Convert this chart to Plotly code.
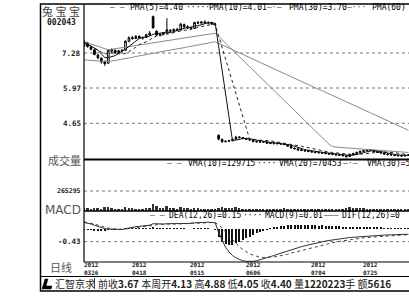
import plotly.graph_objects as go
import pandas as pd

W, H = 409, 302
def fx(px): return px / W
def fy(py): return 1 - py / H

# ---------------- data ----------------
opens = [7.55, 7.65, 7.50, 7.40, 7.20, 7.08, 6.95, 6.90, 7.35, 7.38,
         7.30, 7.36, 7.38, 7.72, 7.85, 7.82, 7.90, 7.84, 7.86, 7.96,
         8.64, 8.10, 7.95, 7.98, 8.02, 8.12, 8.10, 8.16, 8.14, 8.34,
         8.26, 8.22, 8.20, 8.42, 8.40, 8.44, 8.40, 8.42, 8.36,
         4.20, 4.05, 3.96, 3.98, 4.00, 4.06, 4.14, 4.12, 4.08, 4.05,
         4.02, 3.97, 3.95, 3.97, 3.95, 3.92, 3.89, 3.91, 3.89, 3.88,
         3.85, 3.80, 3.72, 3.70, 3.66, 3.64, 3.62, 3.60, 3.58, 3.56,
         3.55, 3.54, 3.52, 3.50, 3.49, 3.47, 3.46, 3.44, 3.41, 3.48,
         3.52, 3.56, 3.60, 3.63, 3.66, 3.64, 3.59, 3.56, 3.54, 3.50,
         3.48, 3.47, 3.45, 3.44, 3.43, 3.45]
highs = [7.75, 7.70, 7.55, 7.42, 7.25, 7.12, 7.00, 7.42, 7.45, 7.42,
         7.40, 7.42, 7.75, 7.90, 7.92, 7.95, 7.94, 7.90, 8.00, 8.10,
         8.68, 8.12, 8.02, 8.05, 8.58, 8.18, 8.20, 8.22, 8.40, 8.38,
         8.32, 8.28, 8.45, 8.48, 8.46, 8.50, 8.46, 8.45, 8.40,
         4.24, 4.08, 4.01, 4.03, 4.08, 4.18, 4.17, 4.14, 4.10, 4.07,
         4.04, 4.00, 3.99, 3.99, 3.97, 3.94, 3.93, 3.93, 3.92, 3.91,
         3.87, 3.82, 3.75, 3.72, 3.69, 3.67, 3.65, 3.63, 3.61, 3.59,
         3.58, 3.57, 3.55, 3.53, 3.52, 3.50, 3.49, 3.46, 3.51, 3.55,
         3.59, 3.63, 3.66, 3.69, 3.68, 3.66, 3.61, 3.58, 3.56, 3.52,
         3.50, 3.49, 3.47, 3.46, 3.48, 3.50]
lows = [7.50, 7.48, 7.38, 7.20, 7.05, 6.88, 6.80, 6.88, 7.28, 7.25,
        7.26, 7.30, 7.36, 7.68, 7.78, 7.80, 7.80, 7.78, 7.84, 7.92,
        8.20, 7.92, 7.90, 7.95, 8.00, 8.05, 8.08, 8.10, 8.12, 8.22,
        8.18, 8.15, 8.18, 8.36, 8.34, 8.38, 8.35, 8.33, 8.28,
        4.02, 3.93, 3.94, 3.96, 3.98, 4.04, 4.08, 4.06, 4.02, 4.00,
        3.94, 3.93, 3.92, 3.92, 3.88, 3.87, 3.86, 3.86, 3.85, 3.83,
        3.77, 3.70, 3.67, 3.62, 3.61, 3.59, 3.57, 3.55, 3.53, 3.52,
        3.51, 3.49, 3.47, 3.46, 3.44, 3.43, 3.41, 3.37, 3.39, 3.46,
        3.50, 3.54, 3.58, 3.61, 3.61, 3.57, 3.54, 3.51, 3.48, 3.45,
        3.44, 3.42, 3.41, 3.40, 3.41, 3.43]
closes = [7.68, 7.52, 7.42, 7.22, 7.10, 6.95, 6.88, 7.38, 7.40, 7.30,
          7.36, 7.38, 7.72, 7.85, 7.82, 7.90, 7.84, 7.86, 7.96, 8.02,
          8.22, 7.95, 7.98, 8.02, 8.15, 8.10, 8.16, 8.14, 8.36, 8.26,
          8.22, 8.20, 8.42, 8.40, 8.44, 8.40, 8.42, 8.36, 8.35,
          4.06, 3.96, 3.98, 4.00, 4.05, 4.13, 4.12, 4.09, 4.05, 4.03,
          3.97, 3.96, 3.96, 3.95, 3.91, 3.90, 3.90, 3.89, 3.88, 3.86,
          3.80, 3.73, 3.70, 3.65, 3.64, 3.62, 3.60, 3.58, 3.56, 3.55,
          3.54, 3.52, 3.50, 3.49, 3.47, 3.46, 3.44, 3.40, 3.48, 3.52,
          3.56, 3.60, 3.63, 3.65, 3.64, 3.59, 3.56, 3.54, 3.50, 3.48,
          3.47, 3.45, 3.44, 3.43, 3.45, 3.47]
ma30 = [7.70, 7.66, 7.62, 7.58, 7.53, 7.48, 7.44, 7.40, 7.42, 7.44,
        7.46, 7.48, 7.50, 7.52, 7.54, 7.56, 7.58, 7.60, 7.62, 7.64,
        7.66, 7.68, 7.70, 7.72, 7.74, 7.76, 7.78, 7.80, 7.82, 7.84,
        7.86, 7.88, 7.90, 7.92, 7.94, 7.96, 7.98, 8.00, 8.02, 7.90,
        7.77, 7.65, 7.52, 7.40, 7.27, 7.14, 7.02, 6.89, 6.77, 6.64,
        6.51, 6.39, 6.26, 6.14, 6.01, 5.88, 5.76, 5.63, 5.51, 5.38,
        5.25, 5.13, 5.00, 4.88, 4.75, 4.62, 4.50, 4.37, 4.25, 4.12,
        3.99, 3.87, 3.78, 3.76, 3.75, 3.74, 3.73, 3.72, 3.71, 3.70,
        3.70, 3.69, 3.68, 3.67, 3.66, 3.65, 3.64, 3.63, 3.62, 3.61,
        3.60, 3.59, 3.58, 3.57, 3.56]
ma60 = [7.02, 7.01, 7.00, 6.99, 6.98, 6.97, 6.96, 6.96, 6.98, 7.00,
        7.03, 7.05, 7.08, 7.10, 7.12, 7.15, 7.17, 7.20, 7.22, 7.24,
        7.27, 7.29, 7.32, 7.34, 7.36, 7.39, 7.41, 7.44, 7.46, 7.48,
        7.51, 7.53, 7.56, 7.58, 7.60, 7.63, 7.65, 7.68, 7.70, 7.64,
        7.58, 7.52, 7.46, 7.40, 7.34, 7.28, 7.22, 7.17, 7.11, 7.05,
        6.99, 6.93, 6.87, 6.81, 6.75, 6.69, 6.63, 6.57, 6.52, 6.46,
        6.40, 6.34, 6.28, 6.22, 6.16, 6.10, 6.04, 5.98, 5.92, 5.87,
        5.81, 5.75, 5.69, 5.63, 5.57, 5.51, 5.45, 5.39, 5.33, 5.27,
        5.21, 5.15, 5.10, 5.04, 4.98, 4.92, 4.86, 4.80, 4.74, 4.68,
        4.62, 4.56, 4.50, 4.45, 4.39]
volumes = [40000, 34000, 30000, 42000, 36000, 32000, 48000, 55000, 35000, 28000,
           27000, 26000, 52000, 46000, 36000, 33000, 30000, 28000, 38000, 42000,
           90000, 60000, 40000, 35000, 66000, 42000, 36000, 32000, 48000, 38000,
           34000, 30000, 45000, 35000, 32000, 28000, 30000, 27000, 26000,
           42000, 52000, 38000, 34000, 43000, 48000, 36000, 32000, 28000, 30000,
           27000, 26000, 28000, 25000, 24000, 27000, 26000, 30000, 32000, 35000,
           28000, 26000, 24000, 23000, 22000, 25000, 27000, 24000, 22000, 21000,
           23000, 24000, 22000, 21000, 22000, 23000, 26000, 40000, 50000, 46000,
           42000, 37000, 34000, 32000, 28000, 26000, 24000, 23000, 22000, 24000,
           25000, 23000, 22000, 24000, 26000, 27000]
dif = [0.22, 0.20, 0.17, 0.13, 0.09, 0.05, 0.01, 0.00, -0.01, -0.02,
       -0.02, -0.02, 0.01, 0.04, 0.06, 0.08, 0.09, 0.10, 0.11, 0.13,
       0.18, 0.17, 0.17, 0.17, 0.18, 0.18, 0.18, 0.18, 0.20, 0.20,
       0.19, 0.19, 0.21, 0.22, 0.23, 0.23, 0.23, 0.22, 0.21, -0.12,
       -0.40, -0.62, -0.78, -0.90, -0.98, -1.04, -1.08, -1.10, -1.11, -1.10,
       -1.08, -1.05, -1.02, -0.98, -0.94, -0.90, -0.86, -0.82, -0.78, -0.74,
       -0.70, -0.67, -0.63, -0.60, -0.57, -0.54, -0.51, -0.48, -0.46, -0.43,
       -0.41, -0.39, -0.37, -0.35, -0.33, -0.32, -0.31, -0.29, -0.28, -0.27,
       -0.26, -0.25, -0.24, -0.23, -0.22, -0.22, -0.21, -0.21, -0.20, -0.20,
       -0.19, -0.19, -0.19, -0.18, -0.18]
dea = [0.24, 0.22, 0.20, 0.17, 0.13, 0.09, 0.05, 0.03, 0.01, 0.00,
       -0.01, -0.01, 0.00, 0.02, 0.04, 0.06, 0.07, 0.08, 0.09, 0.11,
       0.14, 0.15, 0.16, 0.16, 0.17, 0.17, 0.17, 0.17, 0.18, 0.19,
       0.19, 0.19, 0.20, 0.20, 0.21, 0.22, 0.22, 0.22, 0.22, 0.14,
       0.04, -0.10, -0.23, -0.37, -0.49, -0.60, -0.70, -0.78, -0.84, -0.89,
       -0.93, -0.96, -0.97, -0.97, -0.96, -0.95, -0.93, -0.91, -0.88, -0.86,
       -0.82, -0.79, -0.76, -0.73, -0.70, -0.67, -0.63, -0.60, -0.57, -0.55,
       -0.52, -0.49, -0.47, -0.44, -0.42, -0.40, -0.38, -0.36, -0.35, -0.33,
       -0.32, -0.30, -0.29, -0.28, -0.27, -0.26, -0.25, -0.24, -0.23, -0.23,
       -0.22, -0.21, -0.21, -0.20, -0.20]

date_ticks = [2, 16, 33, 49, 68, 83]
date_years = ["2012"] * 6
date_days = ["0326", "0418", "0515", "0606", "0704", "0725"]

price_ticks = [7.28, 5.97, 4.65]
vol_ticks = [265295]
macd_ticks = [-0.43]

status_text = ("前收<b>3.67</b> 本周开<b>4.13</b> 高<b>4.88</b> 低<b>4.05</b> "
               "收<b>4.40</b> 量<b>1220223</b>手 额<b>5616</b>")

n = min(len(opens), len(highs), len(lows), len(closes), len(ma30), len(ma60),
        len(volumes), len(dif), len(dea))
idx = list(range(n))
cl = pd.Series(closes[:n])
ma5 = cl.rolling(5, min_periods=1).mean()
ma10 = cl.rolling(10, min_periods=1).mean()
hist = [dif[i] - dea[i] for i in range(n)]

# ---------------- geometry ----------------
PX_PER = 3.45
K0_PX = 84.1
XL, XR = 84, 409
xr = [(XL - K0_PX) / PX_PER, (XR - K0_PX) / PX_PER]

def price_at(py):
    return 7.28 - (py - 53) / 26.74

P_TOP, P_BOT = 3, 159
V_TOP, V_BOT = 159, 211
M_TOP, M_BOT = 211, 262
v_max = 265295 * (V_BOT - V_TOP) / (V_BOT - 191)
m_scale = 0.034
m_zero = 229
m_range = [-(M_BOT - m_zero) * m_scale, (m_zero - M_TOP) * m_scale]

fig = go.Figure()
fig.add_trace(go.Candlestick(
    x=idx, open=opens[:n], high=highs[:n], low=lows[:n], close=closes[:n],
    increasing=dict(line=dict(color="black", width=1), fillcolor="white"),
    decreasing=dict(line=dict(color="black", width=1), fillcolor="black"),
    whiskerwidth=0, xaxis="x", yaxis="y", showlegend=False))
fig.add_trace(go.Scatter(x=idx, y=ma60[:n], mode="lines", line=dict(color="#8a8a8a", width=1),
                         xaxis="x", yaxis="y", showlegend=False))
fig.add_trace(go.Scatter(x=idx, y=ma30[:n], mode="lines", line=dict(color="#8a8a8a", width=1),
                         xaxis="x", yaxis="y", showlegend=False))
fig.add_trace(go.Scatter(x=idx, y=ma10, mode="lines", line=dict(color="#222", width=1, dash="dot"),
                         xaxis="x", yaxis="y", showlegend=False))
fig.add_trace(go.Scatter(x=idx, y=ma5, mode="lines", line=dict(color="#111", width=1),
                         xaxis="x", yaxis="y", showlegend=False))

fig.add_trace(go.Bar(x=idx, y=volumes[:n], width=0.55, marker=dict(color="#333", line=dict(width=0)),
                     xaxis="x2", yaxis="y2", showlegend=False))

fig.add_trace(go.Bar(x=idx, y=hist, width=0.3, marker=dict(color="#111", line=dict(width=0)),
                     xaxis="x3", yaxis="y3", showlegend=False))
fig.add_trace(go.Scatter(x=idx, y=dea[:n], mode="lines", line=dict(color="#444", width=1, dash="dot"),
                         xaxis="x3", yaxis="y3", showlegend=False))
fig.add_trace(go.Scatter(x=idx, y=dif[:n], mode="lines", line=dict(color="#333", width=1),
                         xaxis="x3", yaxis="y3", showlegend=False))

ax_common = dict(visible=False, showgrid=False, zeroline=False, fixedrange=True)
fig.update_layout(
    width=W, height=H, margin=dict(l=0, r=0, t=0, b=0),
    paper_bgcolor="white", plot_bgcolor="white", showlegend=False,
    bargap=0,
    xaxis=dict(domain=[fx(XL), 1], range=xr, rangeslider=dict(visible=False), anchor="y", **ax_common),
    xaxis2=dict(domain=[fx(XL), 1], range=xr, anchor="y2", matches="x", **ax_common),
    xaxis3=dict(domain=[fx(XL), 1], range=xr, anchor="y3", matches="x", **ax_common),
    yaxis=dict(domain=[fy(P_BOT), fy(P_TOP)], range=[price_at(P_BOT), price_at(P_TOP)], anchor="x", **ax_common),
    yaxis2=dict(domain=[fy(V_BOT), fy(V_TOP)], range=[0, v_max], anchor="x2", **ax_common),
    yaxis3=dict(domain=[fy(M_BOT), fy(M_TOP)], range=m_range, anchor="x3", **ax_common),
)

shapes = []
def hline(py, x0, x1, w=1, color="black", dash=None):
    d = dict(type="line", xref="paper", yref="paper", x0=fx(x0), x1=fx(x1),
             y0=fy(py), y1=fy(py), line=dict(color=color, width=w))
    if dash:
        d["line"]["dash"] = dash
    shapes.append(d)
def vline(px, y0, y1, w=1, color="black"):
    shapes.append(dict(type="line", xref="paper", yref="paper", x0=fx(px), x1=fx(px),
                       y0=fy(y0), y1=fy(y1), line=dict(color=color, width=w)))

# gridlines
for t in price_ticks:
    shapes.append(dict(type="line", xref="paper", yref="y", x0=fx(XL), x1=1, y0=t, y1=t,
                       line=dict(color="#777", width=1, dash="dot"), layer="below"))
for t in vol_ticks:
    shapes.append(dict(type="line", xref="paper", yref="y2", x0=fx(XL), x1=1, y0=t, y1=t,
                       line=dict(color="#777", width=1, dash="dot"), layer="below"))
for t in macd_ticks:
    shapes.append(dict(type="line", xref="paper", yref="y3", x0=fx(XL), x1=1, y0=t, y1=t,
                       line=dict(color="#777", width=1, dash="dot"), layer="below"))

# frame
shapes.append(dict(type="rect", xref="paper", yref="paper", x0=fx(40.5), x1=fx(412),
                   y0=fy(291), y1=fy(4), line=dict(color="black", width=1.5)))
vline(84, 4, 262, 1.2)
hline(159.5, 84, 410, 2)
hline(211, 84, 410, 1.5)
hline(262, 84, 410, 1.2)
hline(276.5, 40, 410, 1.2)
vline(94.5, 278, 289, 1, "#444")
# status bar logo
shapes.append(dict(type="path", xref="paper", yref="paper",
                   path="M {} {} L {} {} L {} {} L {} {} L {} {} L {} {} Z".format(
                       fx(42), fy(289), fx(45), fy(279), fx(48), fy(279),
                       fx(46), fy(286), fx(52), fy(286), fx(51), fy(289)),
                   fillcolor="black", line=dict(color="black", width=0.5)))
fig.update_layout(shapes=shapes)

ann = []
MONO = "DejaVu Sans Mono"
CJK = "Noto Sans CJK SC"
def text(x, y, s, size=8, family=MONO, color="black", xanchor="left", yref="paper", xref="paper", bold=False):
    if bold:
        s = "<b>" + s + "</b>"
    ann.append(dict(x=x, y=y, xref=xref, yref=yref, text=s, showarrow=False,
                    xanchor=xanchor, yanchor="middle", align="center",
                    font=dict(family=family, size=size, color=color)))

# left panel
text(fx(61), fy(11), "兔 宝 宝", 11, CJK, "#444", "center")
text(fx(61), fy(22.5), "002043", 8, MONO, "#222", "center", bold=True)
for t in price_ticks:
    text(fx(83), t, "%.2f" % t, 7.5, MONO, "#222", "right", yref="y", bold=True)
text(fx(83), fy(160), "成交量", 11, CJK, "#555", "right")
text(fx(83), vol_ticks[0], str(vol_ticks[0]), 6.5, MONO, "#222", "right", yref="y2", bold=True)
text(fx(83), fy(210), "MACD", 12, "DejaVu Sans", "#555", "right")
text(fx(83), macd_ticks[0], "%.2f" % macd_ticks[0], 7.5, MONO, "#222", "right", yref="y3", bold=True)
text(fx(61), fy(267), "日线", 11, CJK, "#555", "center")

# date labels
for k, yy, dd in zip(date_ticks, date_years, date_days):
    text(k, fy(268), "<b>" + yy + "<br>" + dd + "</b>", 6, MONO, "#222", "center", xref="x3")

# legends
LY = 7.5
text(fx(108), fy(LY), "— —", 8, MONO, "#555")
text(fx(128), fy(LY), "PMA(5)=4.40", 8)
text(fx(184), fy(LY), "·····", 8)
text(fx(207), fy(LY), "PMA(10)=4.01", 8)
text(fx(265), fy(LY), "—·—", 8, MONO, "#555")
text(fx(287), fy(LY), "PMA(30)=3.70", 8)
text(fx(345), fy(LY), "—···", 8, MONO, "#555")
text(fx(370), fy(LY), "PMA(60)", 8)

VY = 163.5
text(fx(165), fy(VY), "— —", 8, MONO, "#555")
text(fx(186), fy(VY), "VMA(10)=129715", 8)
text(fx(255), fy(VY), "····", 8)
text(fx(277), fy(VY), "VMA(20)=70453", 8)
text(fx(341), fy(VY), "—·—", 8, MONO, "#555")
text(fx(365), fy(VY), "VMA(30)=5", 8)

MY = 215.5
text(fx(148), fy(MY), "— —", 8, MONO, "#555")
text(fx(167), fy(MY), "DEA(12,26)=0.15", 8)
text(fx(241), fy(MY), "····", 8)
text(fx(263), fy(MY), "MACD(9)=0.01", 8)
text(fx(322), fy(MY), "———", 8, MONO, "#555")
text(fx(340), fy(MY), "DIF(12,26)=0", 8)

# status bar
text(fx(53), fy(283.5), "汇智京求", 10, CJK, "#222")
text(fx(96), fy(283.5), status_text, 10, CJK, "#222")

fig.update_layout(annotations=ann)
fig.write_html("out.html", config={"displayModeBar": False},
               post_script="document.body.style.margin='0';document.body.style.padding='0';"
                           "document.documentElement.style.overflow='hidden';")
